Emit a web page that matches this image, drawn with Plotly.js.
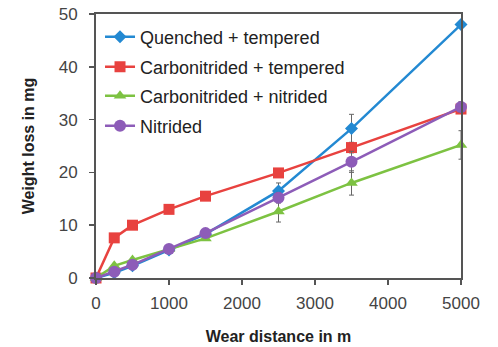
<!DOCTYPE html>
<html><head><meta charset="utf-8">
<script src="https://cdn.plot.ly/plotly-3.0.1.min.js"></script>
<style>html,body{margin:0;padding:0;background:#fff}#c{width:498px;height:347px}</style>
</head><body><div id="c"></div>
<script>
const distance = [0, 250, 500, 1000, 1500, 2500, 3500, 5000];
const names = ["Quenched + tempered", "Carbonitrided + tempered", "Carbonitrided + nitrided", "Nitrided"];
const quenched = [0, 1.0, 2.3, 5.3, 8.3, 16.5, 28.3, 48.0];
const quenchedErr = [0, 0, 0, 0, 0, 1.5, 2.7, 0];
const carboTemp = [0, 7.6, 10.0, 13.0, 15.5, 19.9, 24.7, 32.0];
const carboTempErr = [0, 0, 0, 0, 0, 0.8, 1.0, 0.8];
const carboNit = [0, 2.3, 3.4, 5.5, 7.5, 12.6, 18.0, 25.2];
const carboNitErr = [0, 0, 0, 0, 0, 2.0, 2.3, 2.7];
const nitrided = [0, 1.2, 2.5, 5.5, 8.5, 15.2, 22.0, 32.4];
const nitridedErr = [0, 0, 0, 0, 0, 1.0, 2.0, 1.0];
const xTicks = [0, 1000, 2000, 3000, 4000, 5000];
const yTicks = [0, 10, 20, 30, 40, 50];
const colors = ["#2389d2", "#e8423f", "#7dc242", "#8d5cb8"];
const symbols = ["diamond", "square", "triangle-up", "circle"];
const ys = [quenched, carboTemp, carboNit, nitrided];
const errs = [quenchedErr, carboTempErr, carboNitErr, nitridedErr];
const sizes = [10, 11, 11, 12];
const legendIds = ["legend", "legend2", "legend3", "legend4"];
const legendY = [0.913, 0.799, 0.689, 0.576];
const traces = ys.map((y, i) => ({
  x: distance, y: y, name: names[i], type: "scatter", mode: "lines+markers",
  legend: legendIds[i],
  line: {color: colors[i], width: 2.5},
  marker: {color: colors[i], symbol: symbols[i], size: sizes[i]},
  error_y: {type: "data", array: errs[i], visible: true, color: "#666", thickness: 1, width: 2.5},
  cliponaxis: false
}));
const layout = {
  width: 498, height: 347,
  margin: {l: 96, r: 37, t: 14, b: 69},
  paper_bgcolor: "#fff", plot_bgcolor: "#fff",
  font: {family: "Arial, Liberation Sans, sans-serif", size: 17, color: "#444"},
  showlegend: true,
  xaxis: {range: [0, 5000], tickvals: xTicks, showgrid: false, zeroline: false,
    showline: true, linecolor: "#555", linewidth: 2, mirror: true,
    ticks: "outside", ticklen: 5, tickcolor: "#555", tickwidth: 1.5, ticklabelstandoff: 4,
    tickfont: {size: 17, color: "#444"},
    title: {text: "<b>Wear distance in m</b>", font: {size: 16, color: "#222"}, standoff: 18}},
  yaxis: {range: [0, 50], tickvals: yTicks, showgrid: false, zeroline: false,
    showline: true, linecolor: "#555", linewidth: 2, mirror: true,
    ticks: "outside", ticklen: 5, tickcolor: "#555", tickwidth: 1.5, ticklabelstandoff: 8,
    tickfont: {size: 17, color: "#444"},
    title: {text: "<b>Weight loss in mg</b>", font: {size: 16, color: "#222"}, standoff: 20}}
};
legendIds.forEach((id, i) => {
  layout[id] = {x: 0.011, y: legendY[i], xanchor: "left", yanchor: "middle", bgcolor: "rgba(0,0,0,0)",
    font: {size: 18, color: "#222"}, itemwidth: 30};
});
Plotly.newPlot("c", traces, layout, {displayModeBar: false, staticPlot: true});
</script></body></html>
